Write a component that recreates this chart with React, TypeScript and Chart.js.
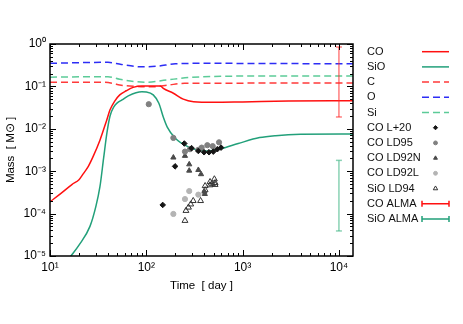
import { useEffect, useRef } from 'react';
import { Chart, registerables } from 'chart.js';
import { drawPoint } from 'chart.js/helpers';

Chart.register(...registerables);

const FONT = "'Liberation Sans', Arial, Helvetica, sans-serif";

// ---- axes ----
const xTickValues = [10, 100, 1000, 10000];
const xTickLabels = ['10¹', '10²', '10³', '10⁴'];
const yTickValues = [1e-5, 1e-4, 1e-3, 1e-2, 1e-1, 1];
const yTickLabels = ['10⁻⁵', '10⁻⁴', '10⁻³', '10⁻²', '10⁻¹', '10⁰'];
const xTitle = 'Time  [ day ]';
const yTitle = 'Mass  [ M⊙ ]';

// ---- model curves ----
const coDays = [10, 13, 17, 20, 22, 25, 28, 33, 38.8, 42, 47, 53, 62, 73, 90, 140, 150, 191, 242, 309, 500, 1000, 3000, 14000];
const coMass = [1.9e-4, 3.0e-4, 4.9e-4, 6.3e-4, 8.5e-4, 1.3e-3, 2.2e-3, 5.4e-3, 0.016, 0.028, 0.045, 0.063, 0.079, 0.095, 0.102, 0.102, 0.09, 0.069, 0.05, 0.0436, 0.042, 0.043, 0.045, 0.046];

const sioDays = [13, 16.5, 20, 26, 30, 33, 36, 39, 42, 46, 50, 56, 65, 90, 100, 118, 135, 150, 165, 200, 270, 400, 600, 900, 1500, 2200, 4000, 14000];
const sioMass = [5e-6, 1e-5, 1.8e-5, 5e-5, 1.5e-4, 4.3e-4, 2e-3, 8e-3, 0.02, 0.033, 0.041, 0.048, 0.06, 0.075, 0.074, 0.063, 0.04, 0.019, 0.011, 6e-3, 3.8e-3, 3.0e-3, 3.4e-3, 4.5e-3, 6.2e-3, 6.9e-3, 7.4e-3, 7.5e-3];

const cDays = [10, 35, 45, 53, 80, 118, 170, 250, 14000];
const cMass = [0.125, 0.125, 0.118, 0.108, 0.1, 0.098, 0.108, 0.118, 0.12];

const oDays = [10, 40, 55, 90, 130, 200, 400, 14000];
const oMass = [0.35, 0.37, 0.33, 0.29, 0.30, 0.34, 0.35, 0.34];

const siDays = [10, 40, 53, 100, 163, 300, 1000, 14000];
const siMass = [0.165, 0.17, 0.147, 0.125, 0.142, 0.164, 0.175, 0.176];

// ---- observations ----
const coL20Days = [148, 199, 248, 295, 347, 398, 448, 496, 546, 597];
const coL20Mass = [1.6e-4, 1.3e-3, 4.5e-3, 3.5e-3, 3.0e-3, 2.8e-3, 2.8e-3, 2.9e-3, 3.3e-3, 3.6e-3];

const coLD95Days = [106, 191, 252, 284, 347, 376, 430, 489, 569];
const coLD95Mass = [0.038, 6.1e-3, 2.9e-3, 3.3e-3, 3.2e-3, 3.6e-3, 4.1e-3, 3.9e-3, 4.8e-3];

const coLD92NDays = [191, 252, 279, 279, 347, 370, 401, 405];
const coLD92NMass = [2.1e-3, 2.3e-3, 1.45e-3, 1.03e-3, 1.07e-3, 8.5e-4, 3.3e-4, 2.9e-4];

const coLD92LDays = [191, 252, 279, 347];
const coLD92LMass = [9.8e-5, 2.2e-4, 3.4e-4, 2.8e-4];

const sioLD94Days = [252, 258, 274, 289, 307, 366, 408, 408, 459, 459, 485, 509, 518, 518];
const sioLD94Mass = [6.8e-5, 1.17e-4, 1.4e-4, 1.66e-4, 2.0e-4, 2.0e-4, 4.5e-4, 3.6e-4, 5.6e-4, 4.7e-4, 5.0e-4, 6.5e-4, 5.3e-4, 4.8e-4];

const coAlmaDays = [10000, 10000];
const coAlmaMass = [0.019, 0.85];
const sioAlmaDays = [10000, 10000];
const sioAlmaMass = [3.9e-5, 1.8e-3];

const pts = (xs: number[], ys: number[]) => xs.map((x, i) => ({ x, y: ys[i] }));

const RED = '#ff1010';
const GREEN = '#22a07a';

const legendPlugin = {
  id: 'gpLegend',
  afterDraw(chart: any) {
    const { ctx, chartArea: a } = chart;
    ctx.save();
    ctx.font = `11px ${FONT}`;
    ctx.textBaseline = 'middle';
    ctx.textAlign = 'left';
    chart.data.datasets.forEach((ds: any, i: number) => {
      const y = a.top + 7.7 + i * 15.2;
      ctx.fillStyle = '#111';
      ctx.fillText(ds.label, a.right + 14, y);
      const x0 = a.right + 69;
      const x1 = a.right + 96;
      const kind = ds.legendKind;
      if (kind === 'line') {
        ctx.strokeStyle = ds.borderColor;
        ctx.lineWidth = ds.borderWidth;
        ctx.setLineDash(ds.borderDash || []);
        ctx.beginPath();
        ctx.moveTo(x0, y);
        ctx.lineTo(x1, y);
        ctx.stroke();
        ctx.setLineDash([]);
      } else if (kind === 'err') {
        ctx.strokeStyle = ds.legendColor;
        ctx.lineWidth = 1.5;
        ctx.beginPath();
        ctx.moveTo(x0, y);
        ctx.lineTo(x1, y);
        ctx.moveTo(x0, y - 3);
        ctx.lineTo(x0, y + 3);
        ctx.moveTo(x1, y - 3);
        ctx.lineTo(x1, y + 3);
        ctx.stroke();
      } else {
        ctx.fillStyle = ds.backgroundColor;
        ctx.strokeStyle = ds.borderColor;
        ctx.lineWidth = ds.pointBorderWidth ?? 1;
        drawPoint(ctx, { pointStyle: ds.pointStyle, rotation: 0, radius: ds.pointRadius * 0.75, borderWidth: ds.pointBorderWidth ?? 1 }, (x0 + x1) / 2, y);
      }
    });
    ctx.restore();
  },
};

const framePlugin = {
  id: 'gpFrame',
  afterDatasetsDraw(chart: any) {
    const { ctx, chartArea: a, scales } = chart;
    const xs = scales.x;
    const ys = scales.y;
    ctx.save();
    ctx.strokeStyle = '#000';
    ctx.lineWidth = 1;
    ctx.beginPath();
    for (let e = -6; e <= 5; e++) {
      for (let m = 1; m <= 9; m++) {
        const v = m * Math.pow(10, e);
        const len = m === 1 ? 6 : 3;
        if (v >= xs.min * 0.999 && v <= xs.max * 1.001) {
          const px = Math.round(xs.getPixelForValue(v)) + 0.5;
          ctx.moveTo(px, a.bottom);
          ctx.lineTo(px, a.bottom - len);
          ctx.moveTo(px, a.top);
          ctx.lineTo(px, a.top + len);
        }
        if (v >= ys.min * 0.999 && v <= ys.max * 1.001) {
          const py = Math.round(ys.getPixelForValue(v)) + 0.5;
          ctx.moveTo(a.left, py);
          ctx.lineTo(a.left + len, py);
          ctx.moveTo(a.right, py);
          ctx.lineTo(a.right - len, py);
        }
      }
    }
    ctx.stroke();
    ctx.lineWidth = 1.5;
    ctx.strokeRect(a.left, a.top, a.right - a.left, a.bottom - a.top);
    ctx.restore();
  },
};

export default function App() {
  const ref = useRef<HTMLCanvasElement>(null);
  useEffect(() => {
    if (!ref.current) return;
    const lineDs = (label: string, xs: number[], ys: number[], color: string, dash: number[] = []) => ({
      type: 'line',
      label,
      data: pts(xs, ys),
      borderColor: color,
      backgroundColor: color,
      borderWidth: 1.5,
      borderDash: dash,
      pointRadius: 0,
      cubicInterpolationMode: 'monotone',
      fill: false,
      order: 2,
      legendKind: 'line',
    });
    const ptDs = (label: string, xs: number[], ys: number[], style: string, fillC: string, strokeC: string, r: number) => ({
      type: 'line',
      label,
      data: pts(xs, ys),
      showLine: false,
      pointStyle: style,
      pointRadius: r,
      pointBorderWidth: 1,
      backgroundColor: fillC,
      borderColor: strokeC,
      pointBackgroundColor: fillC,
      pointBorderColor: strokeC,
      order: 0,
      legendKind: 'point',
    });
    const errDs = (label: string, xs: number[], ys: number[], color: string, legendColor: string) => ({
      type: 'line',
      label,
      data: pts(xs, ys),
      borderColor: color,
      backgroundColor: color,
      borderWidth: 1.5,
      pointStyle: 'line',
      pointRadius: 3,
      pointBorderWidth: 1.5,
      pointBorderColor: color,
      order: 1,
      legendKind: 'err',
      legendColor,
    });

    const chart = new Chart(ref.current, {
      type: 'line',
      data: {
        datasets: [
          lineDs('CO', coDays, coMass, RED),
          lineDs('SiO', sioDays, sioMass, GREEN),
          lineDs('C', cDays, cMass, '#ff3a3a', [7, 4]),
          lineDs('O', oDays, oMass, '#2d2df5', [7, 4]),
          lineDs('Si', siDays, siMass, '#5ccb98', [7, 4]),
          ptDs('CO L+20', coL20Days, coL20Mass, 'rectRot', '#151515', '#151515', 2.8),
          ptDs('CO LD95', coLD95Days, coLD95Mass, 'circle', '#808080', '#808080', 2.6),
          ptDs('CO LD92N', coLD92NDays, coLD92NMass, 'triangle', '#4a4a4a', '#4a4a4a', 3),
          ptDs('CO LD92L', coLD92LDays, coLD92LMass, 'circle', '#b4b4b4', '#b4b4b4', 2.6),
          ptDs('SiO LD94', sioLD94Days, sioLD94Mass, 'triangle', 'rgba(255,255,255,0)', '#333333', 3.4),
          errDs('CO ALMA', coAlmaDays, coAlmaMass, 'rgba(255,40,40,0.6)', RED),
          errDs('SiO ALMA', sioAlmaDays, sioAlmaMass, 'rgba(60,180,130,0.6)', GREEN),
        ] as any,
      },
      options: {
        responsive: false,
        animation: false,
        events: [],
        layout: { padding: { top: 44, right: 110, left: 0, bottom: 0 } },
        plugins: { legend: { display: false }, tooltip: { enabled: false }, title: { display: false } },
        scales: {
          x: {
            type: 'logarithmic',
            min: 10,
            max: 14000,
            afterBuildTicks: (s: any) => {
              s.ticks = xTickValues.map((v) => ({ value: v }));
            },
            afterFit: (s: any) => {
              s.height = 68;
            },
            ticks: {
              callback: (_v: any, i: number) => xTickLabels[i],
              font: { family: FONT, size: 12 },
              color: '#000',
              padding: 4,
              maxRotation: 0,
              autoSkip: false,
            },
            grid: { display: false, drawTicks: false },
            border: { display: false },
            title: { display: true, text: xTitle, color: '#000', font: { family: FONT, size: 11.5 }, padding: { top: 0, bottom: 31 } },
          },
          y: {
            type: 'logarithmic',
            min: 1e-5,
            max: 1,
            afterBuildTicks: (s: any) => {
              s.ticks = yTickValues.map((v) => ({ value: v }));
            },
            afterFit: (s: any) => {
              s.width = 50;
            },
            ticks: {
              callback: (_v: any, i: number) => yTickLabels[i],
              font: { family: FONT, size: 12 },
              color: '#000',
              padding: 4,
              autoSkip: false,
            },
            grid: { display: false, drawTicks: false },
            border: { display: false },
            title: { display: true, text: yTitle, color: '#000', font: { family: FONT, size: 11.5 }, padding: { top: 4, bottom: 0 } },
          },
        },
      } as any,
      plugins: [framePlugin, legendPlugin],
    });
    return () => chart.destroy();
  }, []);

  return (
    <div style={{ position: 'fixed', left: 0, top: 0, width: 463, height: 324, background: '#fff' }}>
      <canvas ref={ref} width={463} height={324} style={{ width: 463, height: 324, display: 'block' }} />
    </div>
  );
}
